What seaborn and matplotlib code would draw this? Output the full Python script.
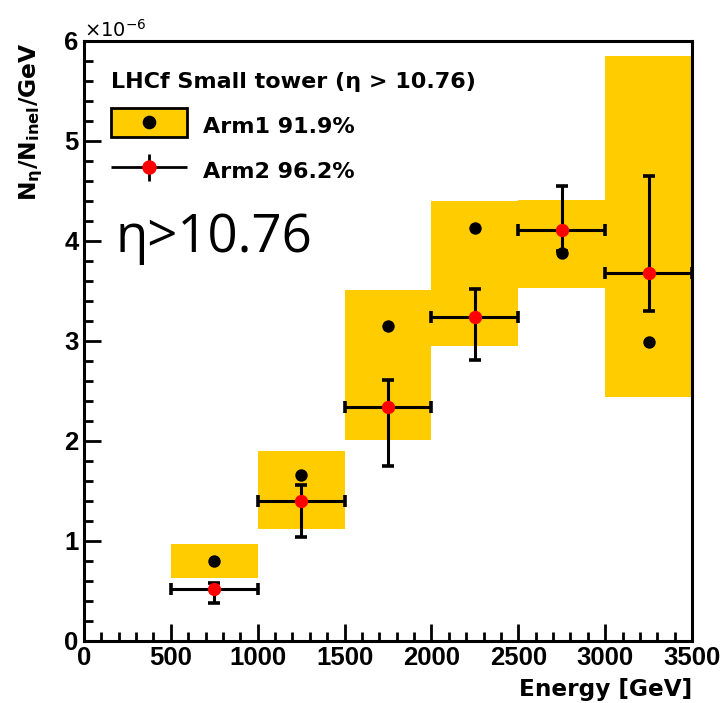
import numpy as np
import pandas as pd
import matplotlib
matplotlib.use("Agg")
import matplotlib.pyplot as plt
import seaborn as sns
from matplotlib.patches import Patch, Rectangle
from matplotlib.lines import Line2D
from matplotlib.container import ErrorbarContainer
from matplotlib.legend_handler import HandlerErrorbar, HandlerTuple, HandlerPatch
from matplotlib.ticker import MultipleLocator, FuncFormatter

# ---------------- data (values in units of 1e-6 per GeV) ----------------
bin_low = [500, 1000, 1500, 2000, 2500, 3000]
bin_high = [1000, 1500, 2000, 2500, 3000, 3500]
arm1_value = [0.80, 1.66, 3.15, 4.13, 3.88, 2.99]
arm1_sys_low = [0.63, 1.12, 2.01, 2.95, 3.53, 2.44]
arm1_sys_high = [0.97, 1.90, 3.51, 4.40, 4.41, 5.85]
arm2_value = [0.52, 1.40, 2.34, 3.24, 4.11, 3.68]
arm2_err_low = [0.38, 1.04, 1.75, 2.81, 3.90, 3.30]
arm2_err_high = [0.58, 1.56, 2.61, 3.52, 4.55, 4.65]
arm1_label = "Arm1 91.9%"
arm2_label = "Arm2 96.2%"
legend_title = "LHCf Small tower (η > 10.76)"
big_label = "η>10.76"

sns.set_style("ticks")
plt.rcParams["font.family"] = ["DejaVu Sans"]
plt.rcParams["mathtext.fontset"] = "dejavusans"
plt.rcParams["text.color"] = "black"
plt.rcParams["axes.labelcolor"] = "black"
plt.rcParams["xtick.color"] = "black"
plt.rcParams["ytick.color"] = "black"
plt.rcParams["axes.edgecolor"] = "black"

YELLOW = "#FFCC00"

df = pd.DataFrame({
    "lo": bin_low, "hi": bin_high,
    "a1": arm1_value, "a1lo": arm1_sys_low, "a1hi": arm1_sys_high,
    "a2": arm2_value, "a2lo": arm2_err_low, "a2hi": arm2_err_high,
})
df["center"] = (df["lo"] + df["hi"]) / 2
df["half"] = (df["hi"] - df["lo"]) / 2

fig = plt.figure(figsize=(7.23, 7.03), dpi=100)
ax = fig.add_axes([84 / 723, 62 / 703, 608 / 723, 600 / 703])

# systematic boxes for Arm1
ax.bar(df["center"], df["a1hi"] - df["a1lo"], bottom=df["a1lo"],
       width=df["hi"] - df["lo"], color=YELLOW, linewidth=0, zorder=1)

# Arm2 error bars
ax.errorbar(df["center"], df["a2"], xerr=df["half"],
            yerr=[df["a2"] - df["a2lo"], df["a2hi"] - df["a2"]],
            fmt="none", ecolor="black", elinewidth=2.2, capsize=4.3,
            capthick=2.6, zorder=2.5)

# Arm1 points
sns.scatterplot(data=df, x="center", y="a1", color="black", s=80,
                linewidth=0, zorder=3, ax=ax, legend=False)
# Arm2 points
sns.scatterplot(data=df, x="center", y="a2", color="red", s=92,
                linewidth=0, zorder=4, ax=ax, legend=False)

ax.set_xlim(0, 3500)
ax.set_ylim(0, 6)
ax.xaxis.set_major_locator(MultipleLocator(500))
ax.xaxis.set_minor_locator(MultipleLocator(100))
ax.yaxis.set_major_locator(MultipleLocator(1))
ax.yaxis.set_minor_locator(MultipleLocator(0.2))
ax.xaxis.set_major_formatter(FuncFormatter(lambda v, p: f"{v:.0f}"))
ax.yaxis.set_major_formatter(FuncFormatter(lambda v, p: f"{v:.0f}"))

for s in ax.spines.values():
    s.set_linewidth(2.2)
    s.set_color("black")
    s.set_visible(True)

ax.tick_params(axis="both", which="both", direction="in", top=False,
               right=False, width=2.0, colors="black")
ax.tick_params(axis="both", which="major", length=12.5,
               labelsize=18.5, labelfontfamily="Liberation Sans")
ax.tick_params(axis="both", which="minor", length=6.5)
ax.tick_params(axis="x", which="major", pad=3.5)
ax.tick_params(axis="y", which="major", pad=4)
for lab in ax.get_xticklabels() + ax.get_yticklabels():
    lab.set_fontweight("bold")

ax.set_xlabel("Energy [GeV]", loc="right", fontsize=16.7, fontweight="bold")
ax.xaxis.set_label_coords(1.0, -0.062)
ax.set_ylabel(r"$\mathbf{N_{\eta}/N_{inel}/GeV}$", loc="top", fontsize=16.8)
ax.yaxis.set_label_coords(-0.064, 0.997)

ax.text(0.0, 1.0, r"$\times$10$^{-6}$", transform=ax.transAxes,
        fontsize=14, ha="left", va="bottom")

ax.text((115 - 84) / 608, (641 - 252) / 600, big_label, transform=ax.transAxes,
        fontsize=38, family="Open Sans", ha="left", va="baseline")


# legend
def centered_box(legend, orig_handle, xdescent, ydescent, width, height, fontsize):
    return Rectangle((-xdescent, -ydescent / 2), width, height)


arm1_handle = (Patch(facecolor=YELLOW, edgecolor="black", linewidth=2),
               Line2D([], [], marker="o", color="black", ls="none", markersize=8.8))
arm2_handle = ax.errorbar([np.nan], [np.nan], xerr=[[1]], yerr=[[1]], fmt="o",
                          color="black", mfc="red", mec="red", ms=9.4,
                          elinewidth=2.0, capsize=0)
LS = 0.70
FS = 16
leg = ax.legend([arm1_handle, arm2_handle], [arm1_label, arm2_label],
                title=legend_title,
                title_fontproperties={"weight": "bold", "size": FS},
                prop={"weight": "bold", "size": FS},
                loc="upper left", bbox_to_anchor=(0.044, 0.949),
                borderaxespad=0, borderpad=0, frameon=False,
                handlelength=3.42, handleheight=1.65, labelspacing=LS,
                handletextpad=0.72, alignment="left",
                handler_map={ErrorbarContainer: HandlerErrorbar(xerr_size=1.71, yerr_size=0.61),
                             Patch: HandlerPatch(patch_func=centered_box),
                             tuple: HandlerTuple(ndivide=1)})
leg._legend_box.sep = LS * FS + 3.0

fig.savefig("out.png", dpi=100)
